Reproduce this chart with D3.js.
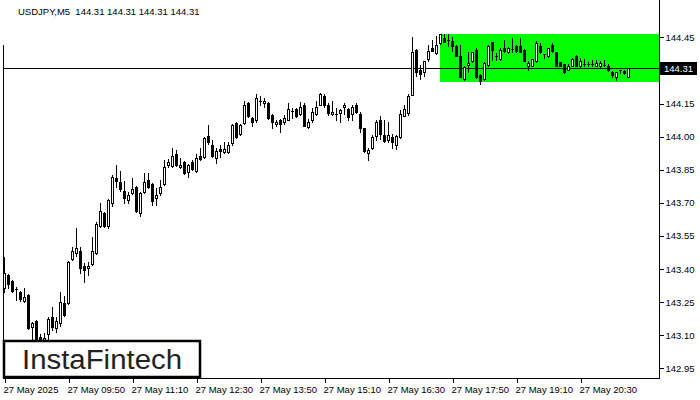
<!DOCTYPE html>
<html>
<head>
<meta charset="utf-8">
<script src="https://cdn.jsdelivr.net/npm/d3@7/dist/d3.min.js"></script>
<style>
  html, body { margin: 0; padding: 0; background: #fff; }
  svg { display: block; }
  text { font-family: "Liberation Sans", Arial, sans-serif; }
</style>
</head>
<body>
<svg id="chart" width="700" height="400"></svg>
<script>
// ---- data (USDJPY M5, 27 May 2025, one bar per 5 minutes from 08:30) ----
const title = "USDJPY,M5  144.31 144.31 144.31 144.31";
const lastPrice = 144.31;

const open = [
  143.314,143.372,143.345,143.309,143.296,143.255,143.282,143.138,143.165,143.093,143.057,143.106,143.183,143.133,143.156,143.246,
  143.248,143.447,143.474,143.483,143.415,143.406,143.424,143.474,143.595,143.654,143.595,143.699,
  143.813,143.795,143.755,143.714,143.746,143.773,143.656,143.750,143.804,143.786,143.723,143.746,143.786,143.872,143.867,143.921,143.863,143.885,143.840,143.885,143.845,143.912,143.908,144.002,143.962,143.903,143.942,143.930,143.930,143.971,144.061,144.011,144.061,
  144.154,144.086,144.073,144.163,144.154,144.154,144.100,144.055,144.077,144.064,144.077,144.113,144.127,144.104,144.145,144.043,144.073,144.104,144.145,144.186,144.145,144.104,144.104,144.109,144.136,144.127,144.104,144.145,144.104,144.037,143.924,143.947,144.001,144.077,144.005,143.983,143.996,143.960,143.996,144.095,144.109,144.190,
  144.393,144.303,144.294,144.350,144.402,144.377,144.424,144.449,144.440,144.433,144.412,144.367,144.262,144.325,144.343,144.393,144.277,144.262,144.325,144.427,144.363,144.351,144.403,144.382,144.397,144.412,144.412,144.393,144.318,144.322,144.343,144.412,144.373,144.363,144.415,144.382,144.337,144.328,144.303,144.322,144.363,144.318,144.328,144.328,144.328,144.322,144.322,144.325,144.318,144.295,144.272,144.303,144.298,144.272
];
const high = [
  143.453,143.377,143.350,143.318,143.300,143.314,143.287,143.160,143.169,143.106,143.111,143.183,143.228,143.183,143.296,143.277,
  143.437,143.501,143.586,143.501,143.429,143.433,143.546,143.613,143.698,143.658,143.717,143.825,
  143.872,143.845,143.800,143.750,143.813,143.777,143.750,143.836,143.836,143.791,143.768,143.804,143.894,143.899,143.949,143.939,143.903,143.890,143.876,143.894,143.921,143.949,143.998,144.052,143.984,143.948,143.962,143.975,143.975,144.056,144.065,144.056,144.160,
  144.159,144.091,144.194,144.186,144.176,144.159,144.104,144.077,144.082,144.100,144.154,144.131,144.131,144.159,144.150,144.082,144.131,144.163,144.199,144.194,144.150,144.163,144.131,144.127,144.154,144.131,144.145,144.154,144.113,144.041,143.947,144.005,144.077,144.095,144.077,144.064,144.014,144.008,144.122,144.145,144.194,144.451,
  144.395,144.325,144.343,144.415,144.440,144.458,144.465,144.465,144.463,144.453,144.413,144.415,144.318,144.382,144.385,144.400,144.283,144.337,144.415,144.429,144.378,144.400,144.438,144.408,144.448,144.413,144.448,144.395,144.343,144.352,144.433,144.423,144.375,144.403,144.423,144.384,144.339,144.330,144.328,144.355,144.370,144.355,144.351,144.337,144.348,144.348,144.343,144.348,144.328,144.296,144.295,144.304,144.303,144.313
];
const low = [
  143.296,143.314,143.296,143.259,143.255,143.250,143.129,143.070,143.052,143.048,143.043,143.079,143.124,143.115,143.142,143.187,
  143.243,143.442,143.460,143.383,143.343,143.375,143.420,143.469,143.591,143.591,143.586,143.685,
  143.773,143.755,143.701,143.701,143.741,143.660,143.642,143.746,143.768,143.691,143.691,143.737,143.782,143.863,143.863,143.867,143.858,143.831,143.818,143.849,143.840,143.894,143.903,143.966,143.908,143.881,143.908,143.926,143.926,143.962,143.993,144.007,144.056,
  144.091,144.050,144.068,144.141,144.136,144.082,144.041,144.046,144.023,144.055,144.073,144.086,144.091,144.100,144.046,144.037,144.068,144.100,144.141,144.136,144.100,144.100,144.073,144.064,144.104,144.073,144.077,144.106,144.023,143.929,143.893,143.942,143.983,143.987,143.974,143.974,143.947,143.942,143.992,144.093,144.100,144.188,
  144.276,144.260,144.276,144.342,144.387,144.375,144.420,144.429,144.411,144.388,144.366,144.271,144.258,144.295,144.339,144.265,144.238,144.258,144.322,144.348,144.348,144.348,144.385,144.378,144.382,144.382,144.382,144.342,144.303,144.321,144.340,144.378,144.355,144.361,144.385,144.321,144.318,144.288,144.301,144.318,144.318,144.313,144.318,144.318,144.318,144.318,144.313,144.318,144.298,144.272,144.258,144.288,144.285,144.271
];
const close = [
  143.381,143.332,143.300,143.304,143.264,143.273,143.133,143.156,143.057,143.061,143.088,143.174,143.138,143.165,143.250,143.192,
  143.433,143.483,143.496,143.406,143.397,143.415,143.483,143.604,143.663,143.595,143.712,143.816,
  143.800,143.764,143.723,143.737,143.764,143.665,143.746,143.795,143.773,143.709,143.737,143.773,143.863,143.885,143.912,143.872,143.872,143.836,143.872,143.854,143.903,143.899,143.993,143.975,143.912,143.935,143.937,143.944,143.962,144.052,143.998,144.052,144.142,
  144.095,144.064,144.176,144.159,144.163,144.086,144.064,144.068,144.055,144.086,144.127,144.118,144.095,144.136,144.050,144.064,144.113,144.136,144.194,144.145,144.109,144.113,144.102,144.122,144.141,144.091,144.136,144.110,144.041,143.933,143.938,143.996,144.064,144.010,143.978,144.005,143.974,144.003,144.104,144.127,144.186,144.384,
  144.294,144.282,144.341,144.388,144.388,144.415,144.463,144.430,144.439,144.412,144.367,144.272,144.316,144.333,144.382,144.272,144.250,144.333,144.412,144.393,144.361,144.393,144.388,144.400,144.395,144.388,144.384,144.343,144.333,144.351,144.423,144.382,144.372,144.400,144.388,144.322,144.322,144.292,144.322,144.351,144.322,144.343,144.327,144.327,144.327,144.333,144.333,144.324,144.300,144.280,144.292,144.301,144.288,144.310
];

// 144.30 is a tick too, but its label sits under the current-price box
const priceTicks = [142.95,143.10,143.25,143.40,143.55,143.70,143.85,144.00,144.15,144.30,144.45];
const hiddenTickLabels = [144.30];
const timeTickBars = [0,16,32,48,64,80,96,112,128,144];
const timeTickLabels = ["27 May 2025","27 May 09:50","27 May 11:10","27 May 12:30","27 May 13:50","27 May 15:10","27 May 16:30","27 May 17:50","27 May 19:10","27 May 20:30"];

// green rectangle (pattern zone): from bar 108.9 to the right edge, price band
const zoneStartBar = 108.9;
const zoneTop = 144.465;
const zoneBottom = 144.246;

const logoText = "InstaFintech";

// ---- layout ----
const svg = d3.select("#chart");
const plotLeft = 3, plotRight = 659.5, plotBottom = 378;

const y = d3.scaleLinear().domain([142.95, 144.45]).range([368.3, 37.3]);
const x = d3.scaleLinear().domain([0, 1]).range([4, 8]);

// green zone
svg.append("rect")
  .attr("x", Math.round(x(zoneStartBar)))
  .attr("y", Math.round(y(zoneTop)))
  .attr("width", plotRight - Math.round(x(zoneStartBar)))
  .attr("height", Math.round(y(zoneBottom)) - Math.round(y(zoneTop)))
  .attr("fill", "#00ff00");

// bid line
const yl = Math.round(y(lastPrice)) + 0.5;
svg.append("line").attr("x1", plotLeft).attr("x2", plotRight).attr("y1", yl).attr("y2", yl)
  .attr("stroke", "#000").attr("stroke-width", 1);

// candles
const bars = open.map((o, i) => ({i, o, h: high[i], l: low[i], c: close[i]}));
const g = svg.append("g").attr("shape-rendering", "crispEdges");
bars.forEach(d => {
  const px = Math.round(x(d.i));
  const yH = Math.round(y(d.h)), yL = Math.round(y(d.l));
  const top = Math.round(y(Math.max(d.o, d.c)));
  const bot = Math.round(y(Math.min(d.o, d.c)));
  g.append("line").attr("x1", px + 0.5).attr("x2", px + 0.5)
    .attr("y1", yH).attr("y2", yL + 1).attr("stroke", "#000");
  const hgt = bot - top;
  if (hgt < 2) {
    g.append("rect").attr("x", px - 1).attr("y", top).attr("width", 3).attr("height", 1).attr("fill", "#000");
  } else if (d.c >= d.o) {
    g.append("rect").attr("x", px - 0.5).attr("y", top + 0.5).attr("width", 2).attr("height", hgt)
      .attr("fill", "#fff").attr("stroke", "#000");
  } else {
    g.append("rect").attr("x", px - 1).attr("y", top).attr("width", 3).attr("height", hgt + 1).attr("fill", "#000");
  }
});

// frame lines
svg.append("line").attr("x1", plotRight).attr("x2", plotRight).attr("y1", 0).attr("y2", plotBottom + 1)
  .attr("stroke", "#000").attr("shape-rendering", "crispEdges");
svg.append("line").attr("x1", plotLeft).attr("x2", plotRight).attr("y1", plotBottom + 0.5).attr("y2", plotBottom + 0.5)
  .attr("stroke", "#000").attr("shape-rendering", "crispEdges");
svg.append("line").attr("x1", plotLeft + 0.5).attr("x2", plotLeft + 0.5).attr("y1", 45).attr("y2", plotBottom)
  .attr("stroke", "#000").attr("shape-rendering", "crispEdges");

// right axis
const fmt = d3.format(".2f");
const yAxis = d3.axisRight(y).tickValues(priceTicks)
  .tickFormat(d => hiddenTickLabels.includes(d) ? "" : fmt(d)).tickSize(4).tickPadding(2);
const ya = svg.append("g").attr("transform", `translate(${plotRight},0)`).call(yAxis);
ya.select(".domain").remove();
ya.selectAll("line").attr("stroke", "#000").attr("shape-rendering", "crispEdges");
ya.selectAll("text").attr("font-size", "9.5px").attr("fill", "#000")
  .attr("font-family", "Liberation Sans, Arial, sans-serif");

// bottom axis
const xAxis = d3.axisBottom(x).tickValues(timeTickBars).tickFormat((d, i) => timeTickLabels[i]).tickSize(5).tickPadding(3);
const xa = svg.append("g").attr("transform", `translate(0.5,${plotBottom})`).call(xAxis);
xa.select(".domain").remove();
xa.selectAll("line").attr("stroke", "#000").attr("shape-rendering", "crispEdges");
xa.selectAll("text").attr("font-size", "9.5px").attr("fill", "#000").attr("text-anchor", "start")
  .attr("dx", "-1.5").attr("font-family", "Liberation Sans, Arial, sans-serif");

// price label
svg.append("rect").attr("x", 660).attr("y", Math.round(y(lastPrice)) - 6).attr("width", 37).attr("height", 13).attr("fill", "#000");
svg.append("text").attr("x", 664).attr("y", Math.round(y(lastPrice)) + 4)
  .attr("font-size", "9.5px").attr("fill", "#fff").text(fmt(lastPrice));

// title
svg.append("text").attr("x", 18).attr("y", 15).attr("font-size", "9.5px").attr("fill", "#000")
  .attr("xml:space", "preserve").style("white-space", "pre").text(title);

// logo
svg.append("rect").attr("x", 4).attr("y", 341).attr("width", 196).attr("height", 36)
  .attr("fill", "#fff").attr("stroke", "#000").attr("stroke-width", 2.5);
svg.append("text").attr("x", 22).attr("y", 369).attr("font-size", "27px")
  .attr("font-family", "Open Sans, sans-serif").attr("font-weight", 500).attr("fill", "#222")
  .attr("textLength", 160).attr("lengthAdjust", "spacingAndGlyphs").text(logoText);
</script>
</body>
</html>
